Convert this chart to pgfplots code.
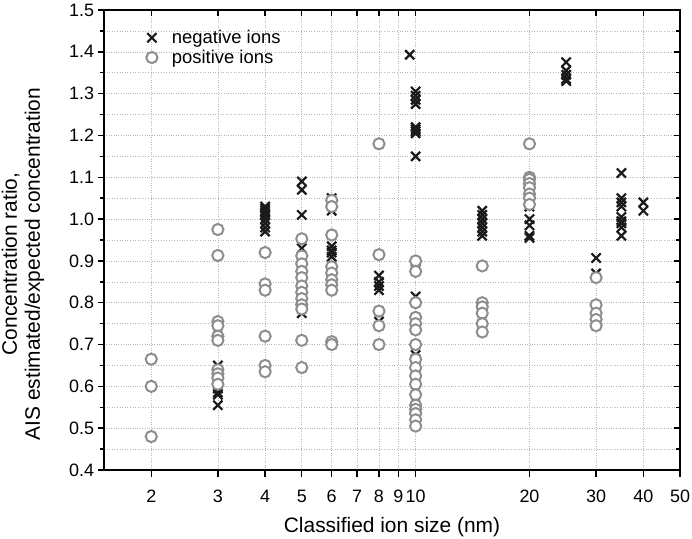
\documentclass[border=0pt]{standalone}
\usepackage{pgfplots}
\pgfplotsset{compat=1.18}
\usepackage{fontspec}
\setmainfont{Liberation Sans}
\definecolor{crosscol}{HTML}{1A1A1A}
\definecolor{circcol}{HTML}{8E8E8E}
\begin{document}
\begin{tikzpicture}
\useasboundingbox (-104bp,-69bp) rectangle (588bp,470bp);
\begin{axis}[
    at={(0,0)}, anchor=south west,
    scale only axis, width=576bp, height=460bp,
    xmode=log, xmin=1.5, xmax=50, ymin=0.4, ymax=1.5,
    xtick={2,3,4,5,6,7,8,9,10,20,30,40,50},
    minor xtick={},
    ytick={0.4,0.5,...,1.51},
    minor y tick num=1,
    major tick length=6.5bp, minor tick length=4.5bp,
    tick style={line width=1.4bp, black},
    axis line style={line width=1.8bp},
    xtick pos=bottom, ytick pos=left, tick align=outside,
    xticklabels={2,3,4,5,6,7,8,9,10,20,30,40,50},
    yticklabel style={/pgf/number format/fixed,/pgf/number format/fixed zerofill,/pgf/number format/precision=1},
    /pgf/number format/assume math mode=true,
    ticklabel style={font=\fontsize{18}{20}\selectfont},
    xticklabel style={yshift=-10bp},
    xmajorgrids, ymajorgrids, yminorgrids,
    grid style={dotted, line width=0.6bp, black!28},
    minor grid style={dotted, line width=0.6bp, black!28},
    xlabel={Classified ion size (nm)},
    ylabel={Concentration ratio,\\AIS estimated/expected concentration},
    ylabel style={align=center, font=\fontsize{21}{23}\selectfont, yshift=18bp, xshift=-24bp},
    xlabel style={font=\fontsize{21}{23}\selectfont, yshift=-8bp},
    legend style={draw=none, fill=none, at={(0.062,0.965)}, anchor=north west,
      font=\fontsize{18.5}{21}\selectfont, row sep=1bp},
    legend cell align=left,
    legend image code/.code={\path[draw=none,fill=none] (0bp,0bp) rectangle (27bp,0bp); \path[#1, draw=none, fill=none] plot coordinates {(9bp,0bp)};},
  ]
\addplot[only marks, mark=x, mark size=6.5bp, mark options={line width=2.2bp, draw=crosscol}] coordinates {
(3,0.65) (3,0.595) (3,0.585) (3,0.58) (3,0.555)
(4,1.03) (4,1.025) (4,1.02) (4,1.015) (4,1.01) (4,1.0) (4,0.99) (4,0.98) (4,0.97)
(5,1.09) (5,1.07) (5,1.01) (5,0.93) (5,0.82) (5,0.815) (5,0.81) (5,0.80) (5,0.775)
(6,1.05) (6,1.02) (6,0.935) (6,0.925) (6,0.92) (6,0.91)
(8,0.865) (8,0.85) (8,0.84) (8,0.83) (8,0.755)
(9.65,1.393)
(10,1.305) (10,1.295) (10,1.285) (10,1.275) (10,1.22) (10,1.215) (10,1.21) (10,1.205) (10,1.15) (10,0.88) (10,0.815) (10,0.675) (10,0.665)
(15,1.02) (15,1.01) (15,1.0) (15,0.99) (15,0.98) (15,0.97) (15,0.96)
(20,1.03) (20,1.0) (20,0.985) (20,0.96) (20,0.955)
(25,1.375) (25,1.355) (25,1.345) (25,1.335) (25,1.33)
(30,0.907) (30,0.87)
(35,1.11) (35,1.05) (35,1.04) (35,1.03) (35,1.005) (35,0.995) (35,0.99) (35,0.98) (35,0.96)
(40,1.04) (40,1.02)
};
\addlegendentry{negative ions}
\addplot[only marks, mark=*, mark size=5.6bp, mark options={line width=2bp, draw=circcol, fill=white}] coordinates {
(2,0.665) (2,0.60) (2,0.48)
(3,0.975) (3,0.913) (3,0.755) (3,0.745) (3,0.72) (3,0.71) (3,0.64) (3,0.63) (3,0.62) (3,0.605)
(4,0.92) (4,0.845) (4,0.83) (4,0.72) (4,0.65) (4,0.635)
(5,0.953) (5,0.912) (5,0.893) (5,0.875) (5,0.86) (5,0.84) (5,0.825) (5,0.81) (5,0.795) (5,0.785) (5,0.71) (5,0.645)
(6,1.045) (6,1.03) (6,0.962) (6,0.886) (6,0.871) (6,0.855) (6,0.843) (6,0.83) (6,0.707) (6,0.70)
(8,1.18) (8,0.915) (8,0.78) (8,0.745) (8,0.70)
(10,0.90) (10,0.875) (10,0.80) (10,0.765) (10,0.75) (10,0.735) (10,0.70) (10,0.665) (10,0.645) (10,0.625) (10,0.605) (10,0.58) (10,0.555) (10,0.545) (10,0.535) (10,0.52) (10,0.505)
(15,0.888) (15,0.80) (15,0.79) (15,0.775) (15,0.75) (15,0.73)
(20,1.18) (20,1.10) (20,1.095) (20,1.085) (20,1.075) (20,1.06) (20,1.05) (20,1.035)
(30,0.86) (30,0.795) (30,0.775) (30,0.76) (30,0.745)
};
\addlegendentry{positive ions}
\end{axis}
\begin{axis}[
    at={(0,0)}, anchor=south west,
    scale only axis, width=576bp, height=460bp,
    xmode=log, xmin=1.5, xmax=50, ymin=0.4, ymax=1.5,
    xtick={2,3,4,5,6,7,8,9,10,20,30,40,50},
    minor xtick={},
    ytick={0.4,0.5,...,1.51},
    minor y tick num=1,
    major tick length=6.5bp, minor tick length=4.5bp,
    tick style={line width=1.4bp, black},
    axis line style={line width=1.8bp},
    xtick pos=top, ytick pos=right, tick align=inside,
    xticklabels={}, yticklabels={},
  ]
\end{axis}
\end{tikzpicture}
\end{document}
